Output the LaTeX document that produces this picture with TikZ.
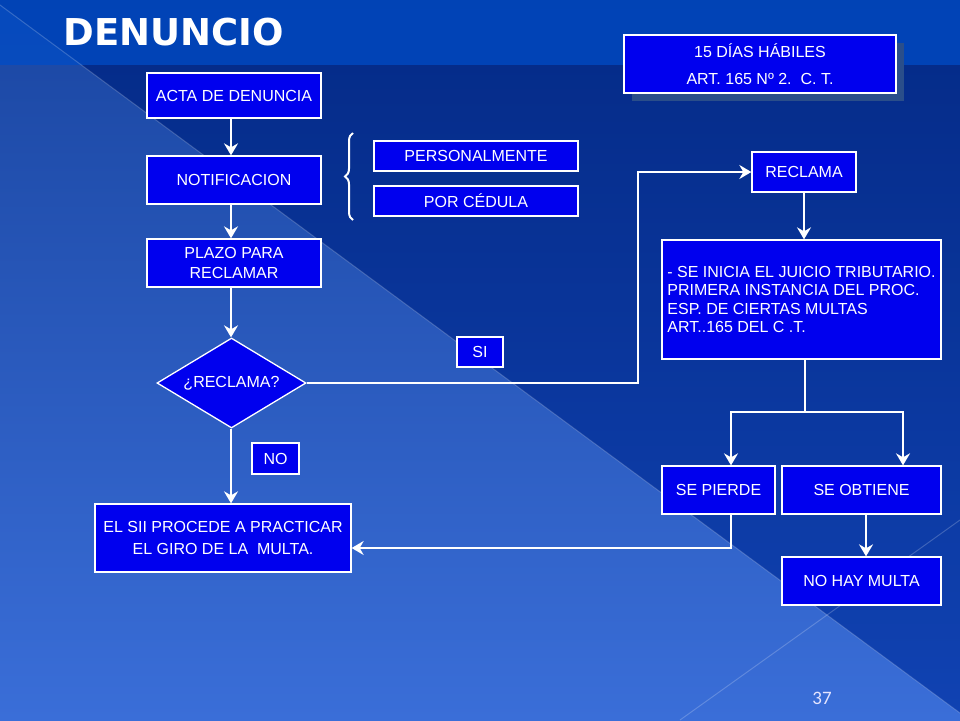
\documentclass[tikz,border=0pt]{standalone}
\usepackage{fontspec}
\setmainfont{Liberation Sans}
\newfontfamily\titlefont{DejaVu Sans}
\newfontfamily\numfont{Carlito}
\usetikzlibrary{shapes.geometric,arrows.meta,decorations.pathreplacing,shadows}
\definecolor{boxblue}{RGB}{0,0,238}
\definecolor{skytop}{RGB}{26,70,162}
\definecolor{skybot}{RGB}{58,110,216}
\definecolor{navytop}{RGB}{4,42,134}
\definecolor{navybot}{RGB}{16,66,178}
\definecolor{bandblue}{RGB}{0,76,198}
\definecolor{shadowblue}{RGB}{42,78,138}
\tikzset{
  box/.style={draw=white, line width=1.3pt, fill=boxblue, text=white, inner sep=0pt,
    font=\fontsize{16}{19}\selectfont, align=center},
  decision/.style={box, diamond, aspect=1.66, minimum width=149pt, minimum height=90pt},
  wire/.style={draw=white, line width=2.8pt},
  conn/.style={wire, -{Stealth[length=12pt,width=14pt,inset=4pt]}},
}
\begin{document}
\begin{tikzpicture}[x=1pt,y=-1pt]
    \useasboundingbox (0,0) rectangle (960,720);
    % background
    \shade[top color=skytop, bottom color=skybot] (0,0) rectangle (960,720);
    \shade[top color=navytop, bottom color=navybot] (0,0) -- (0,5) -- (960,713) -- (960,0) -- cycle;
    \fill[bandblue, opacity=.75] (0,0) rectangle (960,65);
    \draw[white, opacity=.2, line width=1pt] (0,5) -- (960,713);
    \draw[white, opacity=.2, line width=1pt] (680,720) -- (960,520);
    \node[anchor=west, text=white, font=\titlefont\bfseries\fontsize{37}{40}\selectfont] (title) at (60,32) {DENUNCIO};
    % left column
    \node[box, minimum width=174pt, minimum height=45pt] (acta) at (234,95.5) {ACTA DE DENUNCIA};
    \node[box, minimum width=174pt, minimum height=48pt] (notif) at (234,180) {NOTIFICACION};
    \node[box, minimum width=174pt, minimum height=48pt, font=\fontsize{16}{20}\selectfont] (plazo) at (234,263) {PLAZO PARA\\RECLAMAR};
    \node[decision] (recq) at (231.5,383) {¿RECLAMA?};
    \node[box, minimum width=47pt, minimum height=31pt] (no) at (275.5,458.5) {NO};
    \node[box, minimum width=256pt, minimum height=68pt, font=\fontsize{16}{22}\selectfont] (giro) at (223,538) {EL SII PROCEDE A PRACTICAR\\EL GIRO DE LA\ \ MULTA.};
    \node[box, minimum width=204pt, minimum height=30pt] (personal) at (476,156) {PERSONALMENTE};
    \node[box, minimum width=204pt, minimum height=30pt] (cedula) at (476,201) {POR CÉDULA};
    \draw[white, line width=2pt, decorate, decoration={brace, amplitude=8pt}] (353,220) -- (353,133);
    \node[box, minimum width=46pt, minimum height=30pt] (si) at (480,352) {SI};
    % right column
    \node[box, minimum width=272pt, minimum height=58pt, font=\fontsize{16}{27}\selectfont,
        drop shadow={shadow xshift=8pt, shadow yshift=-8pt, fill=shadowblue, opacity=1}] (plazodias) at (760,64) {15 DÍAS HÁBILES\\ART. 165 Nº 2.\ \ C. T.};
    \node[box, minimum width=104pt, minimum height=40pt] (reclama) at (804,172) {RECLAMA};
    \node[box, minimum width=279pt, minimum height=119pt, align=left,
        font=\fontsize{16}{18.5}\selectfont] (juicio) at (801.5,299.5)
        {- SE INICIA EL JUICIO TRIBUTARIO.\\PRIMERA INSTANCIA DEL PROC.\\ESP. DE CIERTAS MULTAS\\ART..165 DEL C .T.};
    \node[box, minimum width=113pt, minimum height=48pt] (pierde) at (718.5,490) {SE PIERDE};
    \node[box, minimum width=159pt, minimum height=48pt] (obtiene) at (861.5,490) {SE OBTIENE};
    \node[box, minimum width=159pt, minimum height=48pt] (nohay) at (861.5,581) {NO HAY MULTA};
    \node[text=white!90!blue, font=\numfont\fontsize{19}{22}\selectfont] (pagenum) at (822,698) {37};
    % connectors
    \coordinate (colx) at (231,0);
    \coordinate (siturn) at (638,383);
    \coordinate (split) at (805,412);
    \coordinate (lft) at (731,412);
    \coordinate (rgt) at (903,412);
    \coordinate (pdrop) at (731,548);
    \draw[conn] (acta.south -| colx) -- (notif.north -| colx);
    \draw[conn] (notif.south -| colx) -- (plazo.north -| colx);
    \draw[conn] (plazo.south -| colx) -- (recq.north -| colx);
    \draw[conn] (recq.south -| colx) -- (giro.north -| colx);
    \draw[conn] (recq.east) -- (siturn) |- (reclama.west);
    \draw[conn] (reclama.south) -- (reclama.south |- juicio.north);
    \draw[wire] (split |- juicio.south) -- (split);
    \draw[conn] (split) -- (lft) -- (lft |- pierde.north);
    \draw[conn] (split) -- (rgt) -- (rgt |- obtiene.north);
    \draw[conn] (lft |- pierde.south) -- (pdrop) -- (pdrop -| giro.east);
    \draw[conn] (obtiene.south -| 866,0) -- (nohay.north -| 866,0);
\end{tikzpicture}
\end{document}
